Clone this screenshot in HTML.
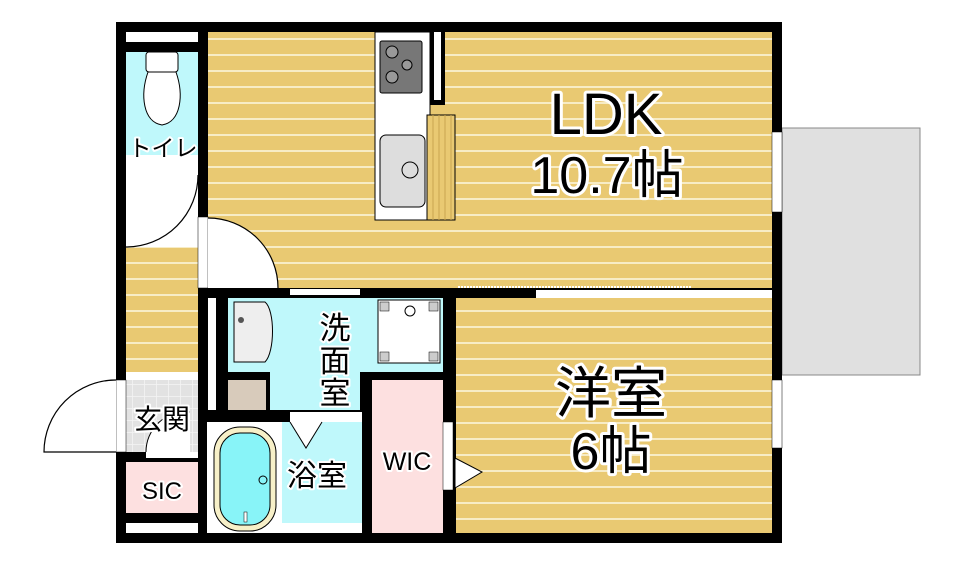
<!DOCTYPE html>
<html><head><meta charset="utf-8"><style>
html,body{margin:0;padding:0;background:#fff;width:964px;height:567px;overflow:hidden}
text{font-family:"Liberation Sans","Noto Sans CJK JP",sans-serif;paint-order:stroke;stroke:#fff;stroke-linejoin:round}
</style></head><body>
<svg width="964" height="567" viewBox="0 0 964 567" xmlns="http://www.w3.org/2000/svg">
<defs>
<pattern id="fl" width="16" height="16" patternUnits="userSpaceOnUse" y="8">
<rect width="16" height="16" fill="#e9c972"/><rect y="14" width="16" height="2" fill="#f7ecc6"/>
</pattern>
<pattern id="tile" width="12" height="12" patternUnits="userSpaceOnUse">
<rect width="12" height="12" fill="#e2e2e2"/><path d="M0 0H12M0 0V12" stroke="#f4f4f4" stroke-width="1.5"/>
</pattern>
</defs>
<rect x="782" y="128" width="138" height="247" fill="#e0e0e0" stroke="#888" stroke-width="1"/>
<rect x="116" y="22" width="666" height="521" fill="#000"/>
<rect x="208" y="32" width="564" height="256" fill="url(#fl)"/>
<rect x="456" y="298" width="316" height="235" fill="url(#fl)"/>
<rect x="126" y="165" width="72" height="207" fill="url(#fl)"/>
<rect x="126" y="165" width="72" height="82" fill="#fff"/>
<path d="M126 247 A72 72 0 0 0 198 175" fill="none" stroke="#000" stroke-width="1.2"/>
<rect x="126" y="32" width="72" height="10" fill="#fff"/>
<rect x="126" y="52" width="72" height="103" fill="#bff8fb"/>
<rect x="126" y="155" width="72" height="10" fill="#fff"/>
<rect x="146" y="52" width="32" height="20" rx="3" fill="#fff" stroke="#000"/>
<path d="M148 72 C140 95 143 122 162 125 C181 122 184 95 176 72 Z" fill="#fff" stroke="#000"/>
<rect x="198" y="217" width="10" height="71" fill="#fff" stroke="#000" stroke-width=".5"/>
<path d="M208 218 A70 70 0 0 1 278 288 H208 Z" fill="#fff"/>
<path d="M208 218 A70 70 0 0 1 278 288" fill="none" stroke="#000" stroke-width="1.2"/>
<rect x="126" y="380" width="72" height="72" fill="url(#tile)"/>
<path d="M146 452 A40 40 0 0 1 190 412 V452 Z" fill="#fff"/>
<path d="M146 452 A40 40 0 0 1 190 412" fill="none" stroke="#000"/>
<rect x="146" y="452" width="52" height="6" fill="#fff"/>
<rect x="126" y="462" width="72" height="51" fill="#fde0e0"/>
<rect x="126" y="523" width="72" height="10" fill="#fff"/>
<rect x="126" y="372" width="72" height="8" fill="#fff"/>
<rect x="116" y="380" width="10" height="72" fill="#fff" stroke="#000" stroke-width=".5"/>
<path d="M116 452 H44 A72 72 0 0 1 116 380" fill="#fff" stroke="#000" stroke-width="1.2"/>
<rect x="228" y="298" width="215" height="74" fill="#bff8fb"/>
<rect x="270" y="372" width="90" height="38" fill="#bff8fb"/>
<rect x="228" y="372" width="42" height="8" fill="#000"/>
<rect x="228" y="380" width="38" height="30" fill="#d8cbbb"/>
<rect x="208" y="298" width="8" height="112" fill="#fff"/>
<path d="M234 302 H265 C275 310 275 352 265 362 H234 Z" fill="#eee" stroke="#000"/>
<circle cx="241" cy="320" r="3" fill="#555"/>
<rect x="378" y="300" width="62" height="63" fill="#fff" stroke="#000"/>
<rect x="380" y="302" width="9" height="9" fill="#ccc" stroke="#000" stroke-width=".5"/>
<rect x="429" y="302" width="9" height="9" fill="#ccc" stroke="#000" stroke-width=".5"/>
<rect x="380" y="352" width="9" height="9" fill="#ccc" stroke="#000" stroke-width=".5"/>
<rect x="429" y="352" width="9" height="9" fill="#ccc" stroke="#000" stroke-width=".5"/>
<circle cx="410" cy="311" r="5" fill="#fff" stroke="#000"/>
<rect x="290" y="289" width="70" height="6" fill="#fff"/>
<rect x="207" y="422" width="75" height="111" fill="#fff"/>
<rect x="282" y="422" width="80" height="101" fill="#bff8fb"/>
<rect x="282" y="523" width="80" height="10" fill="#fff"/>
<rect x="290" y="412" width="72" height="10" fill="#fff"/>
<path d="M290 422 L306 448 L322 422" fill="#fff" stroke="#000"/>
<rect x="214" y="427" width="62" height="104" rx="26" fill="#f7f0c8" stroke="#000"/>
<rect x="220" y="433" width="50" height="92" rx="20" fill="#88f4f8" stroke="#000"/>
<circle cx="263" cy="480" r="4" fill="#88f4f8" stroke="#000"/>
<rect x="244" y="512" width="3" height="10" fill="#fff" stroke="#000" stroke-width=".5"/>
<rect x="372" y="380" width="71" height="153" fill="#fde0e0"/>
<rect x="443" y="422" width="10" height="68" fill="#fff" stroke="#000" stroke-width=".5"/>
<path d="M455 458 L482 472 L455 488 Z" fill="#fff" stroke="#000"/>
<rect x="456" y="288" width="316" height="10" fill="#000"/>
<rect x="536" y="290" width="236" height="8" fill="#fff"/>
<path d="M458 287 H692" stroke="#fff" stroke-width="2" stroke-dasharray="2 1"/>
<rect x="772" y="132" width="10" height="80" fill="#fff" stroke="#000" stroke-width=".5"/>
<rect x="772" y="380" width="10" height="68" fill="#fff" stroke="#000" stroke-width=".5"/>
<rect x="375" y="32" width="55" height="188" fill="#fff" stroke="#000"/>
<rect x="380" y="41" width="42" height="52" rx="2" fill="#777" stroke="#000"/>
<circle cx="392" cy="52" r="6" fill="#999" stroke="#000"/>
<circle cx="392" cy="77" r="6" fill="#999" stroke="#000"/>
<circle cx="407" cy="65" r="5" fill="#999" stroke="#000"/>
<rect x="380" y="135" width="45" height="72" rx="6" fill="#ddd" stroke="#000"/>
<circle cx="410" cy="170" r="8" fill="#ddd" stroke="#000"/>
<rect x="430" y="32" width="15" height="73" fill="#000"/>
<rect x="434" y="32" width="7" height="68" fill="#fff"/>
<rect x="427" y="115" width="28" height="105" fill="#e9c972" stroke="#000"/>
<path d="M433 115V220M439 115V220M445 115V220M451 115V220" stroke="#c9a550" stroke-width="1"/>
<text x="163" y="156" font-size="23" stroke-width="4" text-anchor="middle">トイレ</text>
<text x="162" y="429" font-size="28" stroke-width="4" text-anchor="middle">玄関</text>
<text x="162" y="499" font-size="24" stroke-width="4" text-anchor="middle">SIC</text>
<text x="335" y="339" font-size="31" stroke-width="4" text-anchor="middle">洗</text>
<text x="335" y="372" font-size="31" stroke-width="4" text-anchor="middle">面</text>
<text x="335" y="404" font-size="31" stroke-width="4" text-anchor="middle">室</text>
<text x="317" y="486" font-size="30" stroke-width="4" text-anchor="middle">浴室</text>
<text x="407" y="470" font-size="25" stroke-width="4" text-anchor="middle">WIC</text>
<text x="606" y="134" font-size="58" stroke-width="6" text-anchor="middle">LDK</text>
<text x="607" y="193" font-size="52" stroke-width="6" text-anchor="middle">10.7帖</text>
<text x="611" y="413" font-size="56" stroke-width="6" text-anchor="middle">洋室</text>
<text x="611" y="469" font-size="52" stroke-width="6" text-anchor="middle">6帖</text>
</svg>
</body></html>
